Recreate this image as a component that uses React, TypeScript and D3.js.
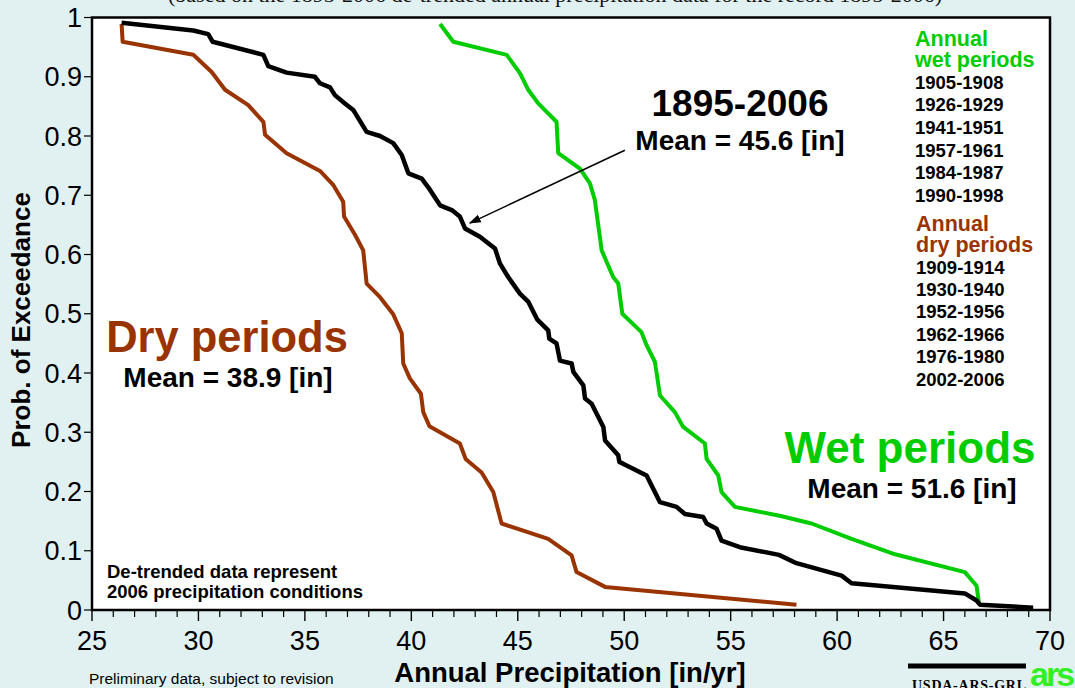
import * as d3 from "d3";

// exceedance curves: annual precip [in/yr] vs probability
const allX = [26.39, 29.76, 30.46, 30.67, 33.05, 33.28, 34.14, 35.47, 35.71, 36.18, 36.41, 36.88, 37.27, 37.9, 38.53, 39.15, 39.55, 39.86, 40.49, 40.88, 41.35, 41.9, 42.28, 42.52, 43.22, 43.93, 44.16, 44.55, 45.1, 45.5, 45.92, 46.43, 46.48, 46.82, 46.98, 47.53, 47.61, 48.08, 48.16, 48.47, 49.02, 49.1, 49.72, 49.77, 50.11, 51.05, 51.68, 52.46, 52.85, 53.71, 53.87, 54.34, 54.57, 55.43, 57.27, 58.09, 60.21, 60.68, 66.0, 66.55, 66.71, 69.21];
const allP = [0.991, 0.978, 0.972, 0.959, 0.937, 0.918, 0.907, 0.9, 0.889, 0.882, 0.869, 0.855, 0.844, 0.807, 0.8, 0.788, 0.768, 0.737, 0.728, 0.709, 0.683, 0.675, 0.664, 0.644, 0.63, 0.61, 0.585, 0.562, 0.534, 0.52, 0.49, 0.472, 0.458, 0.45, 0.421, 0.416, 0.402, 0.379, 0.357, 0.348, 0.309, 0.286, 0.261, 0.25, 0.244, 0.227, 0.182, 0.174, 0.162, 0.157, 0.146, 0.137, 0.117, 0.106, 0.093, 0.079, 0.058, 0.045, 0.028, 0.016, 0.009, 0.004];

const wetX = [41.35, 41.97, 44.48, 45.1, 45.49, 45.96, 46.82, 46.9, 47.92, 48.39, 48.62, 48.94, 49.48, 49.72, 49.91, 50.81, 51.05, 51.44, 51.68, 52.38, 52.77, 53.79, 53.87, 54.42, 54.57, 55.2, 57.3, 58.8, 60.68, 62.72, 66.0, 66.55, 66.67];
const wetP = [0.989, 0.959, 0.937, 0.906, 0.878, 0.855, 0.824, 0.771, 0.745, 0.72, 0.692, 0.607, 0.562, 0.551, 0.5, 0.469, 0.447, 0.419, 0.362, 0.334, 0.309, 0.281, 0.255, 0.227, 0.199, 0.174, 0.159, 0.146, 0.12, 0.094, 0.064, 0.041, 0.01];

const dryX = [26.39, 26.44, 29.76, 30.62, 31.25, 32.34, 33.05, 33.13, 34.14, 35.71, 36.34, 36.8, 36.84, 37.36, 37.74, 37.9, 38.53, 39.15, 39.55, 39.62, 39.93, 40.45, 40.56, 40.85, 42.28, 42.55, 43.3, 43.85, 44.24, 46.43, 47.53, 47.76, 49.1, 58.09];
const dryP = [0.989, 0.959, 0.937, 0.908, 0.878, 0.852, 0.824, 0.802, 0.771, 0.741, 0.717, 0.689, 0.664, 0.633, 0.607, 0.551, 0.528, 0.499, 0.467, 0.416, 0.391, 0.365, 0.334, 0.31, 0.281, 0.255, 0.232, 0.199, 0.146, 0.12, 0.092, 0.064, 0.039, 0.009];

const wetYears = ["1905-1908", "1926-1929", "1941-1951", "1957-1961", "1984-1987", "1990-1998"];
const dryYears = ["1909-1914", "1930-1940", "1952-1956", "1962-1966", "1976-1980", "2002-2006"];

const xTicks = [25, 30, 35, 40, 45, 50, 55, 60, 65, 70];
const yTicks = [0, 0.1, 0.2, 0.3, 0.4, 0.5, 0.6, 0.7, 0.8, 0.9, 1];

const W = 1075;
const H = 688;
const BG = "#e1f1f1";
const GREEN = "#00cc00";
const BROWN = "#993300";
const FONT = "Liberation Sans, Arial, sans-serif";

export default function App() {
  const x = d3.scaleLinear().domain([25, 70]).range([92, 1050]);
  const y = d3.scaleLinear().domain([0, 1]).range([610, 17.5]);

  const line = d3
    .line<[number, number]>()
    .x((d) => x(d[0]))
    .y((d) => y(d[1]));

  const zip = (xs: number[], ps: number[]) =>
    xs.map((v, i) => [v, ps[i]] as [number, number]);

  const minor = d3.range(25, 71, 1).filter((v) => v % 5 !== 0);

  // arrow from "Mean = 45.6" label to the black curve
  const a0 = [x(50.03), y(0.776)];
  const a1 = [x(42.75), y(0.653)];

  return (
    <svg
      width={W}
      height={H}
      style={{ position: "absolute", left: 0, top: 0, background: BG }}
      fontFamily={FONT}
    >
      <defs>
        <marker
          id="arr"
          viewBox="0 0 10 10"
          refX={9}
          refY={5}
          markerWidth={8}
          markerHeight={8}
          orient="auto"
        >
          <path d="M0,1.5 L10,5 L0,8.5 z" fill="#000" />
        </marker>
      </defs>

      {/* subtitle, cut off at the top like the original */}
      <text
        x={555}
        y={2}
        textAnchor="middle"
        fontFamily="Liberation Serif, Times New Roman, serif"
        fontSize={22}
        fill="#111"
      >
        (based on the 1895-2006 de-trended annual precipitation data for the record 1895-2006)
      </text>

      {/* plot area */}
      <rect x={92} y={17.5} width={958} height={592.5} fill="#fff" />

      {/* curves */}
      <path d={line(zip(dryX, dryP)) ?? ""} fill="none" stroke={BROWN} strokeWidth={4} strokeLinejoin="round" />
      <path d={line(zip(wetX, wetP)) ?? ""} fill="none" stroke={GREEN} strokeWidth={4} strokeLinejoin="round" />
      <path d={line(zip(allX, allP)) ?? ""} fill="none" stroke="#000" strokeWidth={4.5} strokeLinejoin="round" />

      <rect x={92} y={17.5} width={958} height={592.5} fill="none" stroke="#000" strokeWidth={2.5} />

      {/* y axis ticks */}
      {yTicks.map((t) => (
        <g key={t}>
          <line x1={84} x2={92} y1={y(t)} y2={y(t)} stroke="#000" strokeWidth={1.2} />
          <text x={82} y={y(t)} dy="0.36em" textAnchor="end" fontSize={27} fill="#000">
            {t === 0 || t === 1 ? String(t) : t.toFixed(1)}
          </text>
        </g>
      ))}

      {/* x axis ticks */}
      {minor.map((t) => (
        <line key={t} x1={x(t)} x2={x(t)} y1={610} y2={617} stroke="#000" strokeWidth={1.2} />
      ))}
      {xTicks.map((t) => (
        <g key={t}>
          <line x1={x(t)} x2={x(t)} y1={610} y2={621} stroke="#000" strokeWidth={1.4} />
          <text x={x(t)} y={650} textAnchor="middle" fontSize={27} fill="#000">
            {t}
          </text>
        </g>
      ))}

      {/* axis titles */}
      <text x={570} y={682} textAnchor="middle" fontSize={27.5} fontWeight="bold" fill="#000">
        Annual Precipitation [in/yr]
      </text>
      <text
        transform="translate(30,320) rotate(-90)"
        textAnchor="middle"
        fontSize={26}
        fontWeight="bold"
        fill="#000"
      >
        Prob. of Exceedance
      </text>

      {/* annotations */}
      <text x={740} y={116} textAnchor="middle" fontSize={37} fontWeight="bold" fill="#000">
        1895-2006
      </text>
      <text x={740} y={150} textAnchor="middle" fontSize={28} fontWeight="bold" fill="#000">
        Mean = 45.6 [in]
      </text>
      <line
        x1={a0[0]}
        y1={a0[1]}
        x2={a1[0]}
        y2={a1[1]}
        stroke="#000"
        strokeWidth={1.5}
        markerEnd="url(#arr)"
      />

      <text x={227} y={352} textAnchor="middle" fontSize={43.5} fontWeight="bold" fill={BROWN}>
        Dry periods
      </text>
      <text x={228} y={387} textAnchor="middle" fontSize={28} fontWeight="bold" fill="#000">
        Mean = 38.9 [in]
      </text>

      <text x={910} y={463} textAnchor="middle" fontSize={44} fontWeight="bold" fill={GREEN}>
        Wet periods
      </text>
      <text x={912} y={498} textAnchor="middle" fontSize={28} fontWeight="bold" fill="#000">
        Mean = 51.6 [in]
      </text>

      <text x={107} y={578} fontSize={18.5} fontWeight="bold" fill="#000">
        De-trended data represent
      </text>
      <text x={107} y={598} fontSize={18.5} fontWeight="bold" fill="#000">
        2006 precipitation conditions
      </text>

      {/* period lists */}
      <text x={915} y={46} fontSize={21.5} fontWeight="bold" fill={GREEN}>Annual</text>
      <text x={915} y={67} fontSize={21.5} fontWeight="bold" fill={GREEN}>wet periods</text>
      {wetYears.map((s, i) => (
        <text key={s} x={915} y={88.5 + i * 22.7} fontSize={18.5} fontWeight="bold" fill="#000">
          {s}
        </text>
      ))}
      <text x={916} y={231} fontSize={21.5} fontWeight="bold" fill={BROWN}>Annual</text>
      <text x={916} y={252} fontSize={21.5} fontWeight="bold" fill={BROWN}>dry periods</text>
      {dryYears.map((s, i) => (
        <text key={s} x={916} y={273.5 + i * 22.4} fontSize={18.5} fontWeight="bold" fill="#000">
          {s}
        </text>
      ))}

      {/* footer */}
      <text x={89} y={684} fontSize={15.5} fill="#000">
        Preliminary data, subject to revision
      </text>
      <line x1={908} x2={1026} y1={666} y2={666} stroke="#000" strokeWidth={5} />
      <text
        x={912}
        y={690}
        fontFamily="Liberation Serif, Times New Roman, serif"
        fontSize={14}
        fontWeight="bold"
        fill="#000"
        textLength={114}
      >
        USDA-ARS-GRL
      </text>
      <text x={1030} y={686} fontSize={34} fontWeight="bold" fill="#33ee22" letterSpacing={-3}>
        ars
      </text>
    </svg>
  );
}
